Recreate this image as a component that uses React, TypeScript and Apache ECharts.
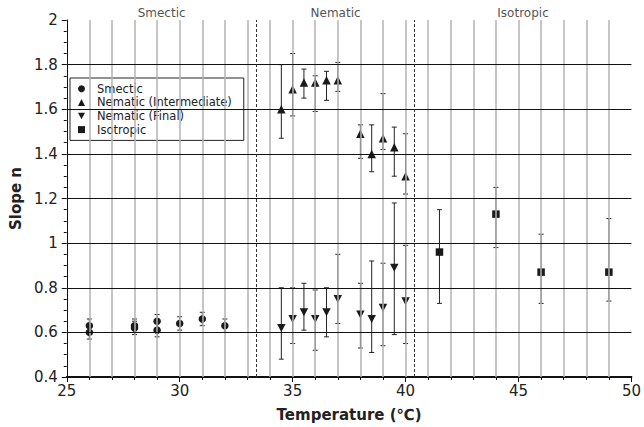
import React, { useEffect, useRef } from "react";
import * as echarts from "echarts";

// Smectic (circles)
const smecticX = [26, 26, 28, 28, 29, 29, 30, 31, 32];
const smecticY = [0.63, 0.6, 0.63, 0.62, 0.65, 0.61, 0.64, 0.66, 0.63];
const smecticLo = [0.6, 0.57, 0.6, 0.59, 0.62, 0.58, 0.61, 0.63, 0.6];
const smecticHi = [0.66, 0.63, 0.66, 0.65, 0.68, 0.64, 0.67, 0.69, 0.66];

// Nematic (shared temperatures)
const nematicX = [34.5, 35, 35.5, 36, 36.5, 37, 38, 38.5, 39, 39.5, 40];
const nemIntY = [1.6, 1.69, 1.72, 1.72, 1.73, 1.73, 1.49, 1.4, 1.47, 1.43, 1.3];
const nemIntHi = [1.8, 1.85, 1.78, 1.75, 1.77, 1.81, 1.53, 1.53, 1.67, 1.52, 1.49];
const nemIntLo = [1.47, 1.57, 1.65, 1.59, 1.64, 1.68, 1.38, 1.32, 1.42, 1.3, 1.22];
const nemFinY = [0.62, 0.66, 0.69, 0.66, 0.69, 0.75, 0.68, 0.66, 0.71, 0.89, 0.74];
const nemFinHi = [0.8, 0.8, 0.82, 0.79, 0.8, 0.95, 0.82, 0.92, 0.91, 1.18, 0.99];
const nemFinLo = [0.48, 0.55, 0.61, 0.52, 0.58, 0.64, 0.53, 0.51, 0.54, 0.59, 0.55];

// Isotropic (squares)
const isoX = [41.5, 44, 46, 49];
const isoY = [0.96, 1.13, 0.87, 0.87];
const isoHi = [1.15, 1.25, 1.04, 1.11];
const isoLo = [0.73, 0.98, 0.73, 0.74];

// Phase boundaries and region labels
const boundaries = [33.4, 40.4];
const regionNames = ["Smectic", "Nematic", "Isotropic"];
const regionCenters = [29.2, 36.9, 45.2];

// Grid lines
const verticalGrid = [26, 27, 28, 29, 30, 31, 32, 33, 34, 35, 36, 37, 38, 39, 40, 41, 42, 43, 44, 45, 46, 47, 48, 49];
const horizontalGrid = [0.6, 0.8, 1.0, 1.2, 1.4, 1.6, 1.8];

const seriesNames = ["Smectic", "Nematic (Intermediate)", "Nematic (Final)", "Isotropic"];
const downTri = "path://M0,0L10,0L5,9Z";

const FONT = "DejaVu Sans";
const INK = "#1a1a1a";

const renderErr = (params: any, api: any) => {
  const x = api.value(0);
  const lo = api.value(1);
  const hi = api.value(2);
  const pLo = api.coord([x, lo]);
  const pHi = api.coord([x, hi]);
  const cap = 2.5;
  const style = { stroke: "#222", lineWidth: 1 };
  return {
    type: "group",
    children: [
      { type: "line", shape: { x1: pLo[0], y1: pLo[1], x2: pHi[0], y2: pHi[1] }, style },
      { type: "line", shape: { x1: pLo[0] - cap, y1: pLo[1], x2: pLo[0] + cap, y2: pLo[1] }, style },
      { type: "line", shape: { x1: pHi[0] - cap, y1: pHi[1], x2: pHi[0] + cap, y2: pHi[1] }, style },
    ],
  };
};

const zip2 = (xs: number[], ys: number[]) => xs.map((x, i) => [x, ys[i]]);
const zip3 = (xs: number[], lo: number[], hi: number[]) => xs.map((x, i) => [x, lo[i], hi[i]]);

export default function App() {
  const ref = useRef<HTMLDivElement>(null);
  useEffect(() => {
    if (!ref.current) return;
    const chart = echarts.init(ref.current, undefined, { renderer: "svg" });
    const errSeries = (name: string, d: number[][]) => ({
      type: "custom",
      name: name + "-err",
      renderItem: renderErr,
      data: d,
      encode: { x: 0, y: [1, 2] },
      z: 3,
      silent: true,
    });
    const ptSeries = (name: string, symbol: string, size: number | number[], d: number[][]) => ({
      type: "scatter",
      name,
      symbol,
      symbolSize: size,
      data: d,
      itemStyle: { color: INK, opacity: 1 },
      z: 4,
    });
    chart.setOption({
      animation: false,
      textStyle: { fontFamily: FONT },
      grid: { left: 63, right: 10, top: 20, bottom: 46 },
      legend: {
        orient: "vertical",
        left: 70,
        top: 78,
        data: [
          { name: seriesNames[0], icon: "circle" },
          { name: seriesNames[1], icon: "triangle" },
          { name: seriesNames[2], icon: downTri },
          { name: seriesNames[3], icon: "rect" },
        ],
        itemWidth: 7,
        itemHeight: 7,
        itemGap: 0,
        padding: [4, 12, 4, 8],
        borderColor: "#222",
        borderWidth: 1,
        backgroundColor: "#fff",
        selectedMode: false,
        textStyle: { fontFamily: FONT, fontSize: 11.5, color: "#222", lineHeight: 13.6, padding: [0, 0, 0, 7] },
      },
      xAxis: {
        type: "value",
        min: 25,
        max: 50,
        interval: 5,
        name: "Temperature (℃)",
        nameLocation: "middle",
        nameGap: 30,
        nameTextStyle: { fontFamily: FONT, fontSize: 15, fontWeight: "bold", color: "#222" },
        axisLine: { show: true, lineStyle: { color: "#111", width: 2 } },
        axisTick: { show: true, length: 5, lineStyle: { color: "#111" } },
        minorTick: { show: true, splitNumber: 5, length: 3, lineStyle: { color: "#111" } },
        axisLabel: { fontFamily: FONT, fontSize: 15, color: "#222", margin: 6 },
        splitLine: { show: false },
      },
      yAxis: {
        type: "value",
        min: 0.4,
        max: 2,
        interval: 0.2,
        name: "Slope n",
        nameLocation: "middle",
        nameGap: 43,
        nameTextStyle: { fontFamily: FONT, fontSize: 15, fontWeight: "bold", color: "#222" },
        axisLine: { show: true, lineStyle: { color: "#111", width: 1 } },
        axisTick: { show: true, length: 5, lineStyle: { color: "#111" } },
        minorTick: { show: true, splitNumber: 4, length: 3, lineStyle: { color: "#111" } },
        axisLabel: { fontFamily: FONT, fontSize: 15, color: "#222", margin: 9 },
        splitLine: { show: false },
      },
      series: [
        {
          type: "scatter",
          name: "grid",
          data: [],
          z: 1,
          silent: true,
          markLine: {
            silent: true,
            symbol: "none",
            label: { show: false },
            animation: false,
            data: [
              ...verticalGrid.map((v) => ({ xAxis: v, lineStyle: { color: "#b3b3b3", width: 1.5, type: "solid" } })),
              ...horizontalGrid.map((v) => ({ yAxis: v, lineStyle: { color: "#111", width: 1, type: "solid" } })),
              ...boundaries.map((v) => ({ xAxis: v, lineStyle: { color: "#333", width: 1, type: [3, 2] } })),
            ],
          },
        },
        {
          type: "scatter",
          name: "regions",
          data: regionCenters.map((c, i) => ({ value: [c, 2], name: regionNames[i] })),
          symbolSize: 0,
          silent: true,
          label: {
            show: true,
            position: "top",
            distance: 1,
            formatter: (p: any) => p.name,
            fontFamily: FONT,
            fontSize: 12,
            color: "#222",
          },
        },
        errSeries("smectic", zip3(smecticX, smecticLo, smecticHi)),
        errSeries("nemInt", zip3(nematicX, nemIntLo, nemIntHi)),
        errSeries("nemFin", zip3(nematicX, nemFinLo, nemFinHi)),
        errSeries("iso", zip3(isoX, isoLo, isoHi)),
        ptSeries(seriesNames[0], "circle", 7.5, zip2(smecticX, smecticY)),
        ptSeries(seriesNames[1], "triangle", 8.5, zip2(nematicX, nemIntY)),
        ptSeries(seriesNames[2], downTri, [8.5, 8], zip2(nematicX, nemFinY)),
        ptSeries(seriesNames[3], "rect", 7.5, zip2(isoX, isoY)),
      ],
    });
    return () => chart.dispose();
  }, []);
  return <div ref={ref} style={{ position: "fixed", left: 0, top: 0, width: 644, height: 427, background: "#fff" }} />;
}
